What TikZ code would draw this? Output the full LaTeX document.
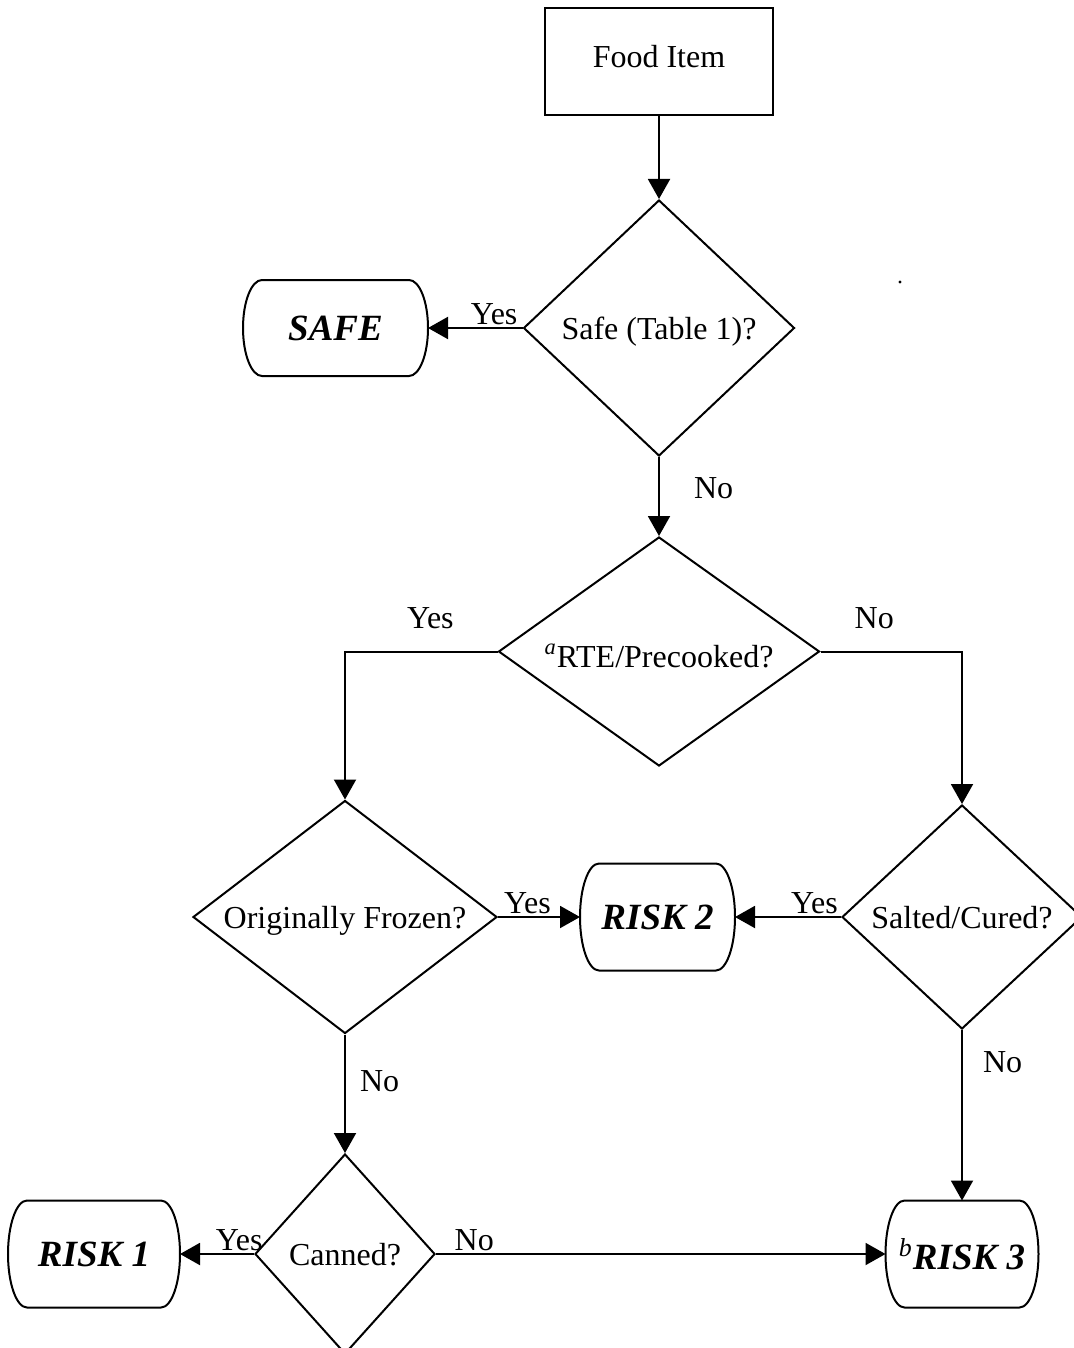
\documentclass[tikz,border=0pt]{standalone}
\usepackage{fontspec}
\setmainfont{Liberation Serif}
\usetikzlibrary{arrows.meta,shapes.geometric}

% flat top and bottom, elliptic ends
\newcommand{\outcomeends}[2]{%
  \draw ([xshift=9.5pt]#1.north west) -- ([xshift=-9.5pt]#1.north east)
    arc [start angle=90, end angle=-90, x radius=9.5pt, y radius=#2]
    -- ([xshift=9.5pt]#1.south west)
    arc [start angle=270, end angle=90, x radius=9.5pt, y radius=#2] -- cycle;}

\begin{document}
\begin{tikzpicture} [
    line width=1pt,
    x=0.5pt, y=-0.5pt,
    every node/.append style={align=center, font=\fontsize{16}{19}\selectfont},
    arr/.style={->, >={Triangle[length=10pt, width=11pt]}},
    lbl/.style={inner sep=1pt},
    itembox/.style={draw, rectangle, minimum width=114pt, minimum height=53.5pt,
      text height=11pt, text depth=5pt},
    decision/.style={draw, diamond, inner sep=0pt, text height=15pt, text depth=3.5pt},
    outcome/.style={rectangle, inner sep=0pt, outer xsep=9.5pt, outer ysep=0pt,
      minimum height=53.5pt,
      font=\bfseries\itshape\fontsize{18.5}{22}\selectfont}
  ]

  \useasboundingbox (0,0) rectangle (1073,1348);

  \node [itembox] (food) at (659,61.5) {Food Item};
  \node [decision, aspect=1.06, minimum width=135.5pt, minimum height=128pt]
    (safeq) at (659,328) {Safe (Table 1)?};
  \node [outcome, minimum width=73.5pt, minimum height=48pt] (safe) at (335.5,328) {SAFE};
  \node [decision, aspect=1.4, minimum width=160.5pt, minimum height=114.5pt,
    text height=20pt, text depth=4pt]
    (rteq) at (659,651.5) {\textsuperscript{\textit{a}}RTE/Precooked?};
  \node [decision, aspect=1.3, minimum width=152pt, minimum height=116.5pt]
    (frozenq) at (345,917) {Originally Frozen?};
  \node [decision, aspect=1.07, minimum width=120pt, minimum height=112pt]
    (saltq) at (962,917) {Salted/Cured?};
  \node [outcome, minimum width=58.5pt] (risk2) at (657.5,917) {RISK 2};
  \node [decision, aspect=0.9, minimum width=90pt, minimum height=100pt]
    (cannedq) at (345,1254) {Canned?};
  \node [outcome, minimum width=67pt] (risk1) at (94,1254) {RISK 1};
  \node [outcome, minimum width=57.5pt] (risk3) at (962,1254)
    {\makebox[0pt]{\textsuperscript{\mdseries b}RISK 3}};

  \outcomeends{safe}{24pt}
  \outcomeends{risk2}{26.75pt}
  \outcomeends{risk1}{26.75pt}
  \outcomeends{risk3}{26.75pt}

  \draw [arr] (food) -- (safeq);
  \draw [arr] (safeq.west) -- node [lbl, pos=0.3, above] {Yes} (safe.east);
  \draw [arr] (safeq.south) -- node [lbl, pos=0.4, right=16pt] {No} (rteq.north);
  \draw [arr] (rteq.west) -| node [lbl, pos=0.22, above=10pt] {Yes} (frozenq.north);
  \draw [arr] (rteq.east) -| node [lbl, pos=0.19, above=10pt] {No} (saltq.north);
  \draw [arr] (frozenq.east) -- node [lbl, pos=0.36, above] {Yes} (risk2.west);
  \draw [arr] (saltq.west) -- node [lbl, pos=0.25, above] {Yes} (risk2.east);
  \draw [arr] (frozenq.south) -- node [lbl, pos=0.39, right=6pt] {No} (cannedq.north);
  \draw [arr] (saltq.south) -- node [lbl, pos=0.19, right=9pt] {No} (risk3.north);
  \draw [arr] (cannedq.west) -- node [lbl, pos=0.2, above] {Yes} (risk1.east);
  \draw [arr] (cannedq.east) -- node [lbl, pos=0.085, above] {No} (risk3.west);

  % stray mark
  \fill (900,282) circle (0.8pt);
\end{tikzpicture}
\end{document}
